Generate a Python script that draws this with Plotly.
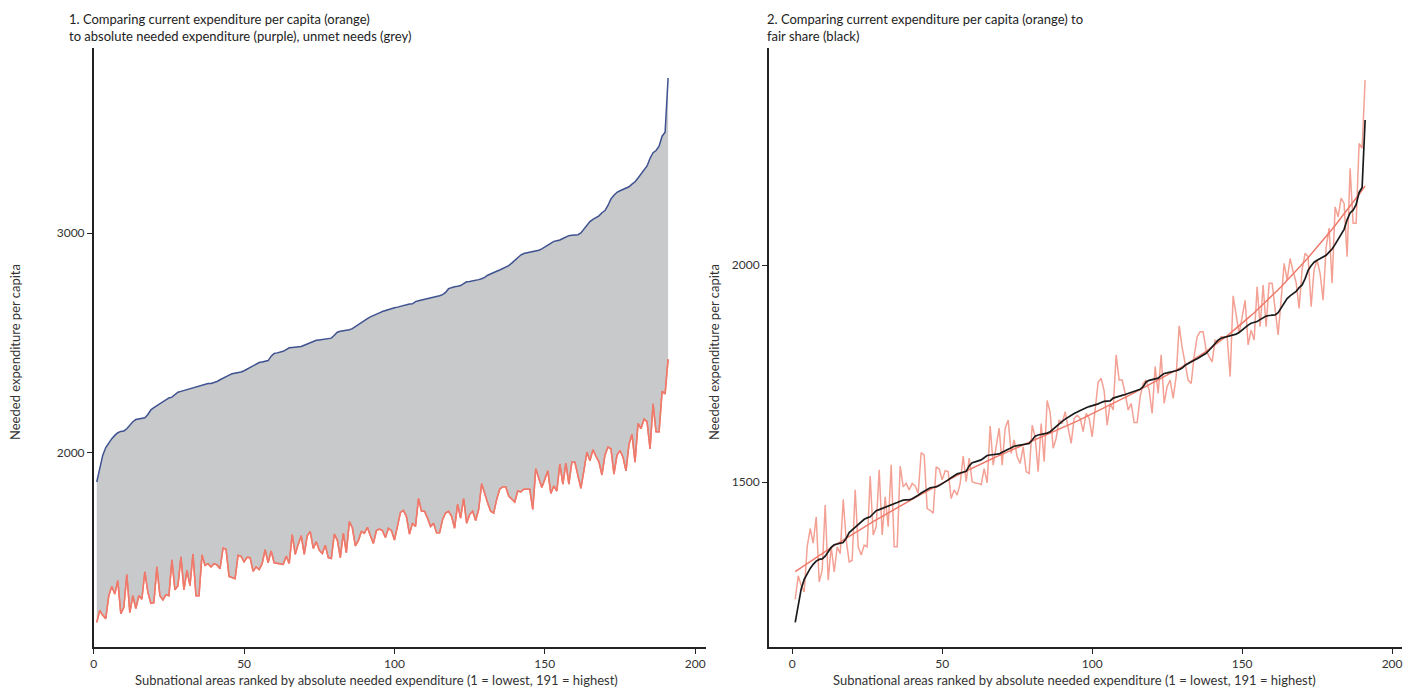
import numpy as np
import plotly.graph_objects as go

# rank 1..191
RANK = list(range(1, 192))

# absolute needed expenditure per capita (purple)
NEEDED = [
 1868,1930,1990,2025,2048,2065,2080,2092,2098,2100,
 2110,2128,2142,2152,2155,2157,2160,2175,2196,2206,
 2215,2226,2236,2245,2250,2254,2265,2276,2280,2284,
 2288,2293,2298,2302,2306,2311,2315,2316,2316,2320,
 2325,2333,2341,2348,2354,2360,2362,2363,2368,2374,
 2382,2389,2397,2404,2411,2414,2417,2420,2440,2452,
 2455,2458,2462,2470,2478,2480,2481,2482,2484,2490,
 2495,2502,2508,2512,2514,2516,2518,2520,2522,2535,
 2549,2553,2555,2557,2560,2565,2575,2585,2594,2603,
 2611,2619,2626,2632,2637,2643,2648,2653,2657,2660,
 2663,2667,2672,2676,2677,2678,2688,2692,2695,2698,
 2701,2705,2708,2711,2715,2720,2730,2747,2753,2756,
 2758,2761,2770,2778,2780,2782,2784,2788,2792,2798,
 2808,2815,2820,2826,2832,2839,2845,2852,2863,2875,
 2888,2900,2907,2910,2912,2914,2917,2922,2928,2937,
 2948,2955,2962,2965,2968,2975,2982,2988,2990,2991,
 2992,3000,3018,3035,3052,3062,3070,3078,3092,3102,
 3125,3155,3172,3185,3192,3198,3203,3210,3222,3233,
 3250,3270,3285,3305,3340,3365,3375,3395,3440,3458,
 3705]

# current expenditure per capita (orange)
CURRENT = [
 1230,1284,1262,1247,1351,1393,1359,1420,1270,1297,
 1447,1274,1351,1293,1351,1335,1460,1366,1316,1320,
 1482,1351,1332,1355,1351,1514,1378,1397,1528,1378,
 1466,1397,1540,1351,1351,1537,1489,1497,1482,1497,
 1491,1474,1568,1562,1439,1435,1428,1535,1530,1505,
 1526,1524,1462,1482,1470,1497,1560,1501,1555,1501,
 1498,1497,1494,1531,1498,1629,1539,1585,1624,1539,
 1624,1643,1566,1597,1558,1543,1581,1524,1520,1631,
 1604,1524,1635,1547,1688,1660,1578,1601,1643,1635,
 1662,1624,1589,1647,1654,1647,1616,1658,1647,1604,
 1673,1730,1739,1710,1631,1681,1666,1793,1735,1735,
 1704,1666,1681,1637,1637,1697,1727,1735,1712,1658,
 1766,1704,1793,1681,1720,1735,1693,1743,1860,1810,
 1773,1735,1727,1789,1835,1846,1846,1804,1789,1777,
 1827,1823,1835,1835,1835,1743,1929,1885,1843,1880,
 1919,1816,1850,1827,1950,1858,1954,1858,1958,1958,
 1900,1839,1920,2004,1965,2015,1985,1960,1900,1990,
 2027,2019,1904,1990,2011,1981,1919,2040,2085,1958,
 2134,2111,2154,2142,2019,2223,2096,2096,2280,2269,
 2426]

# fair share = needed expenditure scaled by the overall funding ratio
FAIR_SHARE_RATIO = 0.63

X_TICKS = [0, 50, 100, 150, 200]
Y_TICKS_1 = [2000, 3000]
Y_TICKS_2 = [1500, 2000]

rank = np.array(RANK, dtype=float)
needed = np.array(NEEDED, dtype=float)
current = np.array(CURRENT, dtype=float)
fair = needed * FAIR_SHARE_RATIO


def loess(x, y, span=0.75, degree=2):
    n = len(x)
    q = int(np.floor(span * n))
    out = np.empty(n)
    for i, x0 in enumerate(x):
        d = np.abs(x - x0)
        dmax = np.sort(d)[q - 1]
        w = np.clip(1 - (d / dmax) ** 3, 0, None) ** 3
        X = np.vander(x - x0, degree + 1, increasing=True)
        WX = X * w[:, None]
        beta = np.linalg.lstsq(WX.T @ X, WX.T @ y, rcond=None)[0]
        out[i] = beta[0]
    return out


trend = loess(rank, current)

W, H = 1403, 688
def px(x):
    return x / W
def py(y):
    return 1 - y / H

PURPLE = "#3f5291"
ORANGE = "#ef7a6b"
ORANGE_LIGHT = "#f4a195"
GREY = "#c8c9cb"
BLACK = "#1b1b1b"
FONT = "Lato"

fig = go.Figure()

# chart 1
fig.add_trace(go.Scatter(x=rank, y=current, mode="lines", line=dict(color=ORANGE, width=1.5),
                         xaxis="x", yaxis="y", showlegend=False))
fig.add_trace(go.Scatter(x=rank, y=needed, mode="lines", line=dict(color=PURPLE, width=1.5),
                         fill="tonexty", fillcolor=GREY, xaxis="x", yaxis="y", showlegend=False))
fig.add_trace(go.Scatter(x=rank, y=current, mode="lines", line=dict(color=ORANGE, width=1.5),
                         xaxis="x", yaxis="y", showlegend=False))

# chart 2
fig.add_trace(go.Scatter(x=rank, y=current, mode="lines", line=dict(color=ORANGE_LIGHT, width=1.5),
                         xaxis="x2", yaxis="y2", showlegend=False))
fig.add_trace(go.Scatter(x=rank, y=trend, mode="lines", line=dict(color=ORANGE, width=1.5),
                         xaxis="x2", yaxis="y2", showlegend=False))
fig.add_trace(go.Scatter(x=rank, y=fair, mode="lines", line=dict(color=BLACK, width=1.7),
                         xaxis="x2", yaxis="y2", showlegend=False))

axis_common = dict(showgrid=False, zeroline=False, showline=True, linecolor="#222", linewidth=1.5,
                   ticks="outside", ticklen=5, tickwidth=1.2, tickcolor="#222",
                   ticklabeloverflow="allow",
                   tickfont=dict(family=FONT, size=12, color="#333"))

fig.update_layout(
    width=W, height=H,
    margin=dict(l=0, r=0, t=0, b=0),
    paper_bgcolor="white", plot_bgcolor="white",
    font=dict(family=FONT, size=12, color="#333"),
    xaxis=dict(domain=[px(91), px(705)], range=[0, 203.6], tickvals=X_TICKS, anchor="y", **axis_common),
    yaxis=dict(domain=[py(647), py(48)], range=[1118, 3841], tickvals=Y_TICKS_1, anchor="x", **axis_common),
    xaxis2=dict(domain=[px(768), 1.0], range=[-7.8, 203.3], tickvals=X_TICKS, anchor="y2", **axis_common),
    yaxis2=dict(domain=[py(647), py(48)], range=[1120, 2500], tickvals=Y_TICKS_2, anchor="x2", **axis_common),
)

ann = []
ann.append(dict(x=px(64), y=py(9), xref="paper", yref="paper", xanchor="left", yanchor="top", align="left",
                showarrow=False, font=dict(family=FONT, size=13, color="#222"),
                text="1. Comparing current expenditure per capita (orange)<br>to absolute needed expenditure (purple), unmet needs (grey)"))
ann.append(dict(x=px(764), y=py(9), xref="paper", yref="paper", xanchor="left", yanchor="top", align="left",
                showarrow=False, font=dict(family=FONT, size=13, color="#222"),
                text="2. Comparing current expenditure per capita (orange) to<br>fair share (black)"))
for xc in (12, 713):
    ann.append(dict(x=px(xc), y=py(352), xref="paper", yref="paper", xanchor="center", yanchor="middle",
                    textangle=-90, showarrow=False, font=dict(family=FONT, size=13, color="#333"),
                    text="Needed expenditure per capita"))
for xc in (375, 1075):
    ann.append(dict(x=px(xc), y=py(680), xref="paper", yref="paper", xanchor="center", yanchor="middle",
                    showarrow=False, font=dict(family=FONT, size=13, color="#333"),
                    text="Subnational areas ranked by absolute needed expenditure (1 = lowest, 191 = highest)"))
fig.update_layout(annotations=ann)

fig.write_html("out.html", config={"displayModeBar": False},
               post_script="document.body.style.margin='0';")
